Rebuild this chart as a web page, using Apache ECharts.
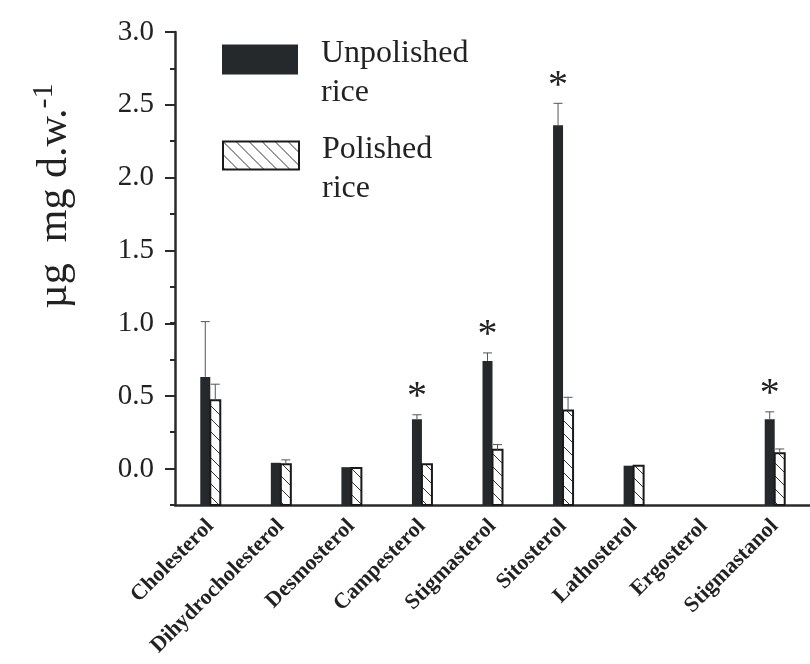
<!DOCTYPE html>
<html>
<head>
<meta charset="utf-8">
<script src="https://cdn.jsdelivr.net/npm/echarts@6/dist/echarts.min.js"></script>
<style>
  html, body { margin: 0; padding: 0; background: #fff; }
  #chart { width: 810px; height: 664px; }
</style>
</head>
<body>
<div id="chart"></div>
<script>
  var categories = ['Cholesterol', 'Dihydrocholesterol', 'Desmosterol', 'Campesterol', 'Stigmasterol',
    'Sitosterol', 'Lathosterol', 'Ergosterol', 'Stigmastanol'];
  var unpolished = [0.63, 0.04, 0.01, 0.34, 0.74, 2.36, 0.02, null, 0.34];
  var unpolishedErr = [0.38, 0, 0, 0.03, 0.055, 0.15, 0, null, 0.05];
  var polished = [0.47, 0.03, 0.005, 0.03, 0.13, 0.40, 0.02, null, 0.105];
  var polishedErr = [0.11, 0.03, 0, 0, 0.035, 0.09, 0, null, 0.03];
  var significant = [0, 0, 0, 1, 1, 1, 0, 0, 1];

  var font = 'Liberation Serif';
  var dark = '#25292b';
  var yMin = -0.25;

  // hatch tile for the polished bars
  function hatch() {
    var c = document.createElement('canvas');
    c.width = 13; c.height = 13;
    var ctx = c.getContext('2d');
    ctx.fillStyle = '#fff';
    ctx.fillRect(0, 0, 13, 13);
    ctx.strokeStyle = '#333';
    ctx.lineWidth = 1;
    ctx.beginPath();
    ctx.moveTo(-2, -2); ctx.lineTo(15, 15);
    ctx.stroke();
    return c;
  }
  var hatchFill = { image: hatch(), repeat: 'repeat' };

  function toData(vals, errs) {
    return vals.map(function (v, i) {
      return v == null ? [i, '-', 0, 0] : [i, v, errs[i], significant[i]];
    });
  }

  // bars start at the bottom of the axis, like the original plot
  function barRender(offset, fill, border, withStar) {
    return function (params, api) {
      var v = api.value(1);
      var e = api.value(2);
      if (isNaN(v)) return;
      var bottom = api.coord([api.value(0), yMin]);
      var top = api.coord([api.value(0), v]);
      var errTop = api.coord([api.value(0), v + e]);
      var x = bottom[0] + offset;
      var kids = [];
      var bw = 10;
      kids.push({ type: 'rect',
        shape: { x: x - bw / 2, y: top[1], width: bw, height: bottom[1] - top[1] },
        style: border ? { fill: fill, stroke: '#1a1a1a', lineWidth: 2 } : { fill: fill } });
      if (e > 0) {
        kids.push({ type: 'line', shape: { x1: x, y1: top[1], x2: x, y2: errTop[1] },
          style: { stroke: '#555', lineWidth: 1 } });
        kids.push({ type: 'line', shape: { x1: x - 4.5, y1: errTop[1], x2: x + 4.5, y2: errTop[1] },
          style: { stroke: '#555', lineWidth: 1 } });
      }
      if (withStar && api.value(3) === 1) {
        kids.push({ type: 'text', x: x, y: errTop[1] - 17,
          style: { text: '*', font: '40px ' + font, fill: '#222', align: 'center', verticalAlign: 'middle' } });
      }
      return { type: 'group', children: kids };
    };
  }

  var chart = echarts.init(document.getElementById('chart'));
  var legendText = {
    fontFamily: font, fontSize: 32, color: '#222', padding: [0, 0, 0, 18],
    rich: {
      sp: { fontSize: 1, lineHeight: 27 },
      a: { fontFamily: font, fontSize: 32, color: '#222', lineHeight: 39 }
    }
  };
  // a thin spacer line on top pushes the label a bit below the icon
  function twoLines(n) {
    var p = n.split(' ');
    return '{sp| }\n{a|' + p[0] + '}\n{a|' + p[1] + '}';
  }
  chart.setOption({
    animation: false,
    grid: [
      { left: 175, right: 0, top: 32, bottom: 159 },
      { left: 175, right: 0, top: 32, bottom: 195 }
    ],
    legend: [
      { data: [{ name: 'Unpolished rice', itemStyle: { color: dark } }],
        left: 222, top: 20, padding: 0, orient: 'vertical', itemWidth: 76, itemHeight: 30,
        icon: 'rect', selectedMode: false, textStyle: legendText, formatter: twoLines },
      { data: [{ name: 'Polished rice', itemStyle: { color: hatchFill, borderColor: '#1a1a1a', borderWidth: 2 } }],
        left: 222, top: 116, padding: 0, orient: 'vertical', itemWidth: 76, itemHeight: 28,
        icon: 'rect', selectedMode: false, textStyle: legendText, formatter: twoLines }
    ],
    xAxis: [
      {
        type: 'category', data: categories, gridIndex: 0,
        axisLine: { onZero: false, lineStyle: { color: '#2a2a2a', width: 2.5 } },
        axisTick: { show: false },
        axisLabel: { rotate: 45, margin: 18, interval: 0, fontFamily: font, fontWeight: 'bold',
          fontSize: 22, color: '#222' }
      },
      { type: 'category', data: categories, gridIndex: 1, show: false }
    ],
    yAxis: [
      {
        type: 'value', gridIndex: 0, min: yMin, max: 3, interval: 0.25,
        axisLine: { show: true, lineStyle: { color: '#2a2a2a', width: 2.5 } },
        axisTick: { show: true, length: 5, lineStyle: { color: '#2a2a2a', width: 2 } },
        axisLabel: { show: false },
        splitLine: { show: false }
      },
      {
        type: 'value', gridIndex: 1, min: 0, max: 3, interval: 0.5,
        axisLine: { show: false },
        axisTick: { show: true, length: 10, lineStyle: { color: '#2a2a2a', width: 2 } },
        axisLabel: { margin: 21, fontFamily: font, fontSize: 29, color: '#222',
          formatter: function (v) { return v.toFixed(1); } },
        splitLine: { show: false }
      }
    ],
    graphic: [{
      type: 'text', x: 55, y: 196, rotation: Math.PI / 2,
      style: {
        text: '{a|\u00b5g  mg d.w.}{s|-1}',
        align: 'center', verticalAlign: 'middle',
        rich: {
          a: { fontFamily: font, fontSize: 42, fill: '#222' },
          s: { fontFamily: font, fontSize: 30, fill: '#222', padding: [0, 0, 22, 0] }
        }
      }
    }],
    series: [
      {
        name: 'Unpolished rice', type: 'custom', data: toData(unpolished, unpolishedErr),
        renderItem: barRender(-5, dark, false, true), encode: { x: 0, y: 1 },
        itemStyle: { color: dark }
      },
      {
        name: 'Polished rice', type: 'custom', data: toData(polished, polishedErr),
        renderItem: barRender(5, hatchFill, true, false), encode: { x: 0, y: 1 },
        itemStyle: { color: hatchFill, borderColor: '#1a1a1a', borderWidth: 2 }
      }
    ]
  });
</script>
</body>
</html>
